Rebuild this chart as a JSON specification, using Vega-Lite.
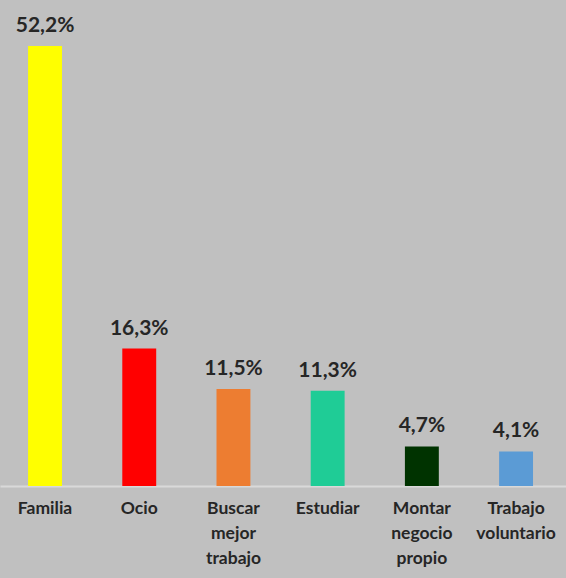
{
  "$schema": "https://vega.github.io/schema/vega-lite/v6.json",
  "width": 566,
  "height": 486,
  "autosize": "none",
  "padding": {"top": 0, "left": 0, "right": 0, "bottom": 92},
  "background": "#c0c0c0",
  "data": {
    "values": [
      {"cat": "Familia", "value": 52.2, "label": "52,2%", "color": "#ffff00"},
      {"cat": "Ocio", "value": 16.3, "label": "16,3%", "color": "#ff0000"},
      {"cat": "Buscar mejor trabajo", "value": 11.5, "label": "11,5%", "color": "#ed7d31"},
      {"cat": "Estudiar", "value": 11.3, "label": "11,3%", "color": "#1fcc96"},
      {"cat": "Montar negocio propio", "value": 4.7, "label": "4,7%", "color": "#003300"},
      {"cat": "Trabajo voluntario", "value": 4.1, "label": "4,1%", "color": "#5b9bd5"}
    ]
  },
  "config": {"view": {"stroke": null}},
  "encoding": {
    "x": {
      "field": "cat",
      "type": "nominal",
      "sort": null,
      "scale": {"paddingInner": 0.64, "paddingOuter": 0.324, "align": 0.46},
      "axis": {
        "title": null,
        "labelAngle": 0,
        "labelExpr": "split(datum.label, ' ')",
        "labelFont": "Lato",
        "labelFontWeight": "bold",
        "labelFontSize": 17.5,
        "labelLineHeight": 25,
        "labelColor": "#262626",
        "labelPadding": 13,
        "ticks": false,
        "domainColor": "#d9d9d9",
        "domainWidth": 2
      }
    },
    "y": {
      "field": "value",
      "type": "quantitative",
      "scale": {"domain": [0, 57.65]},
      "axis": null
    }
  },
  "layer": [
    {
      "mark": {"type": "bar"},
      "encoding": {
        "color": {"field": "color", "type": "nominal", "scale": null}
      }
    },
    {
      "mark": {"type": "text", "baseline": "bottom", "dy": -10, "font": "Lato", "fontWeight": "bold", "fontSize": 21, "color": "#262626"},
      "encoding": {"text": {"field": "label"}}
    }
  ]
}
